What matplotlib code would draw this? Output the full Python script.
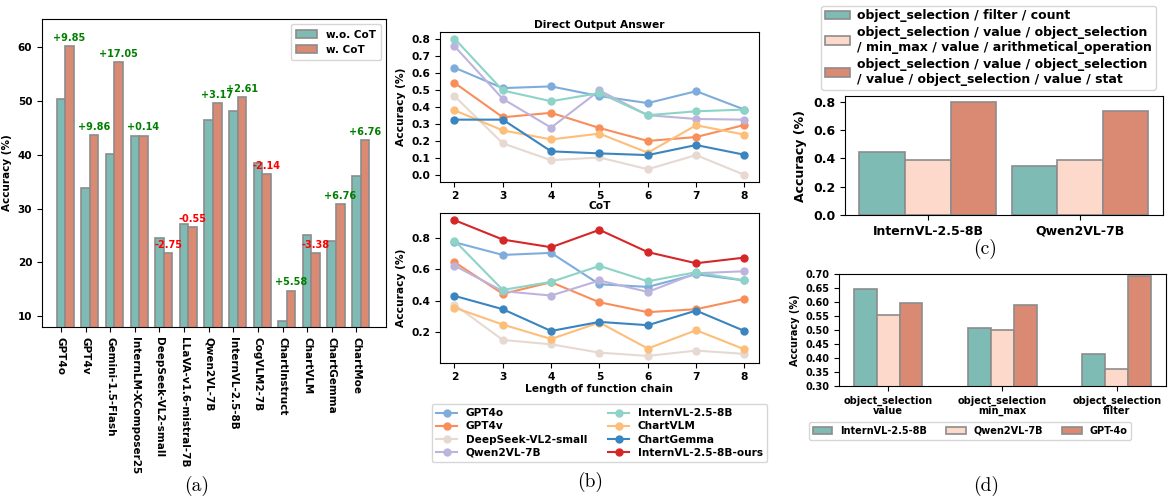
import numpy as np
import matplotlib
matplotlib.use('Agg')
import matplotlib.pyplot as plt
from matplotlib.lines import Line2D

plt.rcParams['font.family'] = 'DejaVu Sans'
plt.rcParams['font.weight'] = 'bold'
plt.rcParams['axes.labelweight'] = 'bold'
plt.rcParams['axes.titleweight'] = 'bold'

# ---- data (a): accuracy with / without CoT
models_a = ['GPT4o', 'GPT4v', 'Gemini-1.5-Flash', 'InternLM-XComposer25',
            'DeepSeek-VL2-small', 'LLaVA-v1.6-mistral-7B', 'Qwen2VL-7B',
            'InternVL-2.5-8B', 'CogVLM2-7B', 'ChartInstruct', 'ChartVLM',
            'ChartGemma', 'ChartMoe']
wo_cot = [50.40, 33.80, 40.10, 43.40, 24.50, 27.10, 46.40, 48.10, 38.50, 9.20, 25.10, 24.00, 36.00]
w_cot = [60.25, 43.66, 57.15, 43.54, 21.75, 26.55, 49.57, 50.71, 36.36, 14.78, 21.72, 30.76, 42.76]
diff_labels = ['+9.85', '+9.86', '+17.05', '+0.14', '-2.75', '-0.55', '+3.17',
               '+2.61', '-2.14', '+5.58', '-3.38', '+6.76', '+6.76']

# ---- data (b): accuracy vs length of function chain
chain_len = [2, 3, 4, 5, 6, 7, 8]
line_models = ['GPT4o', 'GPT4v', 'DeepSeek-VL2-small', 'Qwen2VL-7B',
               'InternVL-2.5-8B', 'ChartVLM', 'ChartGemma', 'InternVL-2.5-8B-ours']
line_colors = ['#7EADDC', '#F98E5A', '#E6D9D1', '#BDB4DE',
               '#8DD3C7', '#FDBE7A', '#3A85C0', '#D62728']
direct = {
    'GPT4o':              [0.629, 0.509, 0.519, 0.462, 0.421, 0.491, 0.383],
    'GPT4v':              [0.540, 0.338, 0.364, 0.275, 0.199, 0.222, 0.293],
    'DeepSeek-VL2-small': [0.462, 0.185, 0.086, 0.102, 0.033, 0.116, 0.000],
    'Qwen2VL-7B':         [0.755, 0.446, 0.277, 0.495, 0.350, 0.328, 0.324],
    'InternVL-2.5-8B':    [0.800, 0.495, 0.432, 0.480, 0.350, 0.373, 0.383],
    'ChartVLM':           [0.379, 0.261, 0.208, 0.242, 0.130, 0.291, 0.236],
    'ChartGemma':         [0.324, 0.324, 0.138, 0.126, 0.116, 0.175, 0.118],
}
cot = {
    'GPT4o':                [0.772, 0.691, 0.704, 0.504, 0.487, 0.568, 0.528],
    'GPT4v':                [0.645, 0.443, 0.517, 0.389, 0.326, 0.345, 0.411],
    'DeepSeek-VL2-small':   [0.374, 0.149, 0.121, 0.068, 0.047, 0.081, 0.060],
    'Qwen2VL-7B':           [0.623, 0.460, 0.432, 0.528, 0.455, 0.574, 0.587],
    'InternVL-2.5-8B':      [0.783, 0.468, 0.519, 0.621, 0.523, 0.581, 0.528],
    'ChartVLM':             [0.355, 0.247, 0.155, 0.260, 0.094, 0.211, 0.089],
    'ChartGemma':           [0.430, 0.345, 0.206, 0.264, 0.243, 0.336, 0.206],
    'InternVL-2.5-8B-ours': [0.913, 0.789, 0.740, 0.851, 0.709, 0.638, 0.674],
}

# ---- data (c): accuracy per function chain
models_c = ['InternVL-2.5-8B', 'Qwen2VL-7B']
chains_c = ['object_selection / filter / count',
            'object_selection / value / object_selection\n/ min_max / value / arithmetical_operation',
            'object_selection / value / object_selection\n/ value / object_selection / value / stat']
acc_c = [[0.447, 0.344], [0.388, 0.388], [0.800, 0.736]]

# ---- data (d): accuracy per function pair
pairs_d = ['object_selection\nvalue', 'object_selection\nmin_max', 'object_selection\nfilter']
models_d = ['InternVL-2.5-8B', 'Qwen2VL-7B', 'GPT-4o']
acc_d = [[0.646, 0.508, 0.413], [0.555, 0.500, 0.360], [0.595, 0.590, 0.693]]

teal = '#7FBBB5'
salmon = '#DA8A72'
pink = '#FDD9CB'
edge = '#8C8C8C'

fig = plt.figure(figsize=(11.76, 4.99), dpi=100)

# ================= (a)
ax = fig.add_axes([0.0357, 0.3447, 0.2925, 0.617])
x = np.arange(len(models_a))
bw = 0.35
ax.bar(x, wo_cot, bw, color=teal, edgecolor=edge, linewidth=1.2, label='w.o. CoT')
ax.bar(x + bw, w_cot, bw, color=salmon, edgecolor=edge, linewidth=1.2, label='w. CoT')
for i, lab in enumerate(diff_labels):
    col = 'green' if lab.startswith('+') else 'red'
    ax.text(x[i] + bw, w_cot[i] + 0.6, lab, ha='center', va='bottom',
            color=col, fontsize=7, fontweight='bold')
ax.set_xticks(x)
ax.set_xticklabels(models_a, rotation=270, fontsize=7.5)
ax.set_yticks([10, 20, 30, 40, 50, 60])
ax.tick_params(axis='y', labelsize=7.5)
ax.set_ylabel('Accuracy (%)', fontsize=7.5)
ax.set_xlim(-0.77, 13.2)
ax.set_ylim(8, 65.2)
ax.legend(loc='upper right', fontsize=7.5, borderpad=0.5)

# ================= (b)
axt = fig.add_axes([0.3741, 0.6359, 0.2713, 0.3006])
axb = fig.add_axes([0.3741, 0.2731, 0.2713, 0.2994])
for name, c in zip(line_models, line_colors):
    if name in direct:
        axt.plot(chain_len, direct[name], '-o', color=c, lw=1.5, ms=5)
    axb.plot(chain_len, cot[name], '-o', color=c, lw=1.5, ms=5)
axt.set_title('Direct Output Answer', fontsize=7.7, pad=3)
axb.set_title('CoT', fontsize=7.7, pad=3)
axt.set_yticks([0.0, 0.1, 0.2, 0.3, 0.4, 0.5, 0.6, 0.7, 0.8])
axb.set_yticks([0.2, 0.4, 0.6, 0.8])
for a in (axt, axb):
    a.set_xticks(chain_len)
    a.tick_params(labelsize=7.7)
    a.set_ylabel('Accuracy (%)', fontsize=7.7)
axb.set_xlabel('Length of function chain', fontsize=7.7, labelpad=1)
handles = [Line2D([], [], color=c, marker='o', lw=1.5, ms=5) for c in line_colors]
order = [0, 1, 2, 3, 4, 5, 6, 7]
fig.legend([handles[i] for i in order], [line_models[i] for i in order],
           ncol=2, loc='center', bbox_to_anchor=(0.5098, 0.1323),
           fontsize=7.6, labelspacing=0.3, borderpad=0.4)

# ================= (c)
axc = fig.add_axes([0.7185, 0.5691, 0.2704, 0.2385])
xc = np.arange(len(models_c))
cw = 0.3
for j, (lab, col) in enumerate(zip(chains_c, [teal, pink, salmon])):
    axc.bar(xc + (j - 1) * cw, acc_c[j], cw, color=col, edgecolor=edge,
            linewidth=1.2, label=lab)
axc.set_xticks(xc)
axc.set_xticklabels(models_c, fontsize=9)
axc.set_yticks([0.0, 0.2, 0.4, 0.6, 0.8])
axc.tick_params(axis='y', labelsize=9)
axc.set_ylabel('Accuracy (%)', fontsize=9)
axc.legend(loc='center', bbox_to_anchor=(0.8406, 0.9048), bbox_transform=fig.transFigure,
           fontsize=9, labelspacing=0.3, borderpad=0.3, handletextpad=0.6)

# ================= (d)
axd = fig.add_axes([0.7134, 0.2265, 0.278, 0.2244])
xd = np.arange(len(pairs_d))
dw = 0.2
for j, (lab, col) in enumerate(zip(models_d, [teal, pink, salmon])):
    axd.bar(xd + (j - 1) * dw, acc_d[j], dw, color=col, edgecolor=edge,
            linewidth=1.2, label=lab)
axd.set_xticks(xd)
axd.set_xticklabels(pairs_d, fontsize=7, linespacing=1.0)
axd.set_ylim(0.30, 0.70)
axd.set_yticks([0.30, 0.35, 0.40, 0.45, 0.50, 0.55, 0.60, 0.65, 0.70])
axd.set_yticklabels(['%.2f' % v for v in axd.get_yticks()])
axd.tick_params(axis='y', labelsize=7)
axd.set_ylabel('Accuracy (%)', fontsize=7)
fig.legend(*axd.get_legend_handles_labels(), ncol=3, loc='center',
           bbox_to_anchor=(0.8248, 0.1363), fontsize=7, borderpad=0.4)

# ================= sub-captions
for lab, cx, cy in [('(a)', 0.1675, 0.027), ('(b)', 0.5017, 0.035),
                    ('(c)', 0.8376, 0.501), ('(d)', 0.8384, 0.027)]:
    fig.text(cx, cy, lab, ha='center', va='center', fontsize=14,
             fontname='cmr10', fontweight='normal')

fig.savefig('out.png', dpi=100)
